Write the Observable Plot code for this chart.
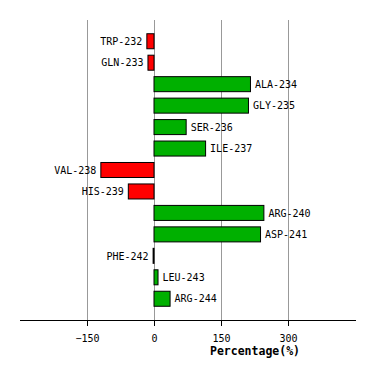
<!DOCTYPE html>
<html>
<head>
<meta charset="utf-8">
<script src="https://cdn.jsdelivr.net/npm/d3@7"></script>
<script src="https://cdn.jsdelivr.net/npm/@observablehq/plot@0.6"></script>
<style>
  html, body { margin: 0; padding: 0; background: #fff; }
  svg { display: block; }
</style>
</head>
<body>
<div id="chart"></div>
<script>
const residues = ["TRP-232","GLN-233","ALA-234","GLY-235","SER-236","ILE-237","VAL-238","HIS-239","ARG-240","ASP-241","PHE-242","LEU-243","ARG-244"];
const percentages = [-16, -13.5, 216, 211.5, 72, 115.5, -119, -57.5, 246, 238.5, -2, 9, 36];
const xTicks = [-150, 0, 150, 300];
const xDomain = [-300, 450];
const axisTitle = "Percentage(%)";

const data = residues.map((name, i) => ({name, value: percentages[i]}));
const font = "'DejaVu Sans Mono', monospace";

const chart = Plot.plot({
  width: 374,
  height: 380,
  marginTop: 20,
  marginBottom: 60,
  marginLeft: 20,
  marginRight: 19,
  style: {fontFamily: font, fontSize: "10px", background: "#fff"},
  x: {domain: xDomain, ticks: xTicks},
  y: {domain: residues, paddingInner: 0.3, paddingOuter: 0.64, round: false, axis: null},
  marks: [
    Plot.gridX(xTicks, {stroke: "#999", strokeOpacity: 1}),
    Plot.frame({anchor: "bottom", stroke: "black"}),
    Plot.axisX(xTicks, {tickSize: 6, tickPadding: 8, label: null, stroke: "black", fill: "black", fontSize: 10}),
    Plot.barX(data, {x: "value", y: "name", fill: d => d.value < 0 ? "#ff0000" : "#00b000", stroke: "black", strokeWidth: 1}),
    Plot.text(data, {filter: d => d.value < 0, x: "value", y: "name", text: "name", textAnchor: "end", dx: -5, fill: "black", fontSize: 10}),
    Plot.text(data, {filter: d => d.value >= 0, x: "value", y: "name", text: "name", textAnchor: "start", dx: 4, fill: "black", fontSize: 10}),
    Plot.text([axisTitle], {x: xDomain[1] / 2, frameAnchor: "bottom", dy: 34, text: d => d, textAnchor: "middle", fontWeight: "bold", fontSize: 11.5, fill: "black"})
  ]
});
document.getElementById("chart").appendChild(chart);
</script>
</body>
</html>
